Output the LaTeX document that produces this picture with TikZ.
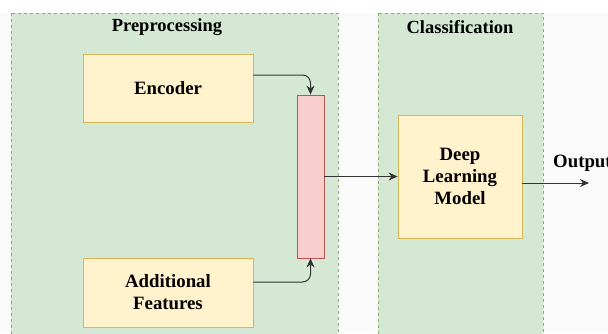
\documentclass[tikz,border=0pt]{standalone}
\usepackage{fontspec}
\setmainfont{Liberation Serif}[BoldFont={Liberation Serif Bold}]
\usetikzlibrary{arrows.meta,positioning}
\definecolor{panelgreen}{HTML}{D5E8D4}
\definecolor{panelline}{HTML}{82B366}
\definecolor{boxyellow}{HTML}{FFF2CC}
\definecolor{boxline}{HTML}{D6B656}
\definecolor{barpink}{HTML}{F8CECC}
\definecolor{barline}{HTML}{B85450}
\tikzset{
  panel/.style={fill=panelgreen, draw=panelline, dashed, line width=0.7pt},
  ptitle/.style={font=\rmfamily\bfseries\fontsize{18.5}{20}\selectfont},
  block/.style={fill=boxyellow, draw=boxline, line width=0.8pt, align=center,
    font=\rmfamily\bfseries\fontsize{18.8}{22}\selectfont, inner sep=0pt},
  link/.style={draw=black!80, line width=1pt, -{Stealth[length=9pt,width=8pt]}}
}
\begin{document}
\begin{tikzpicture}[x=1pt, y=-1pt]
	\useasboundingbox (0,0) rectangle (608,333);
	% 背景
	\fill [gray!4] (0,13) rectangle (608,333);
	% 两个区域
	\draw [panel] (11,13) rectangle (338,345);
	\node [ptitle] (pretitle) at (167,27) {Preprocessing};
	\draw [panel] (378,13) rectangle (543,345);
	\node [ptitle] (clstitle) at (460,27) {Classification};
	% 方框
	\node [block, minimum width=170pt, minimum height=68pt] (encoder) at (168,88) {Encoder};
	\node [block, minimum width=170pt, minimum height=69pt] (addfeat) at (168,292.5) {Additional\\Features};
	\node [draw=barline, fill=barpink, line width=0.8pt, minimum width=27pt, minimum height=163pt, inner sep=0pt] (concat) at (310.5,176.5) {};
	\node [block, minimum width=124pt, minimum height=123pt] (dlmodel) at (460,176.5) {Deep\\Learning\\Model};
	\node [font=\rmfamily\bfseries\fontsize{18.8}{22}\selectfont, anchor=west, inner sep=0pt] (output) at (553,163) {Output};
	\coordinate (outend) at (589,183);
	% 连线
	\draw [link, rounded corners=8pt] ([yshift=13pt]encoder.east) -| (concat.north);
	\draw [link, rounded corners=8pt] ([yshift=10.5pt]addfeat.east) -| (concat.south);
	\draw [link] (concat) -- (dlmodel);
	\draw [link] ([yshift=-6.5pt]dlmodel.east) -- (outend);
\end{tikzpicture}
\end{document}
